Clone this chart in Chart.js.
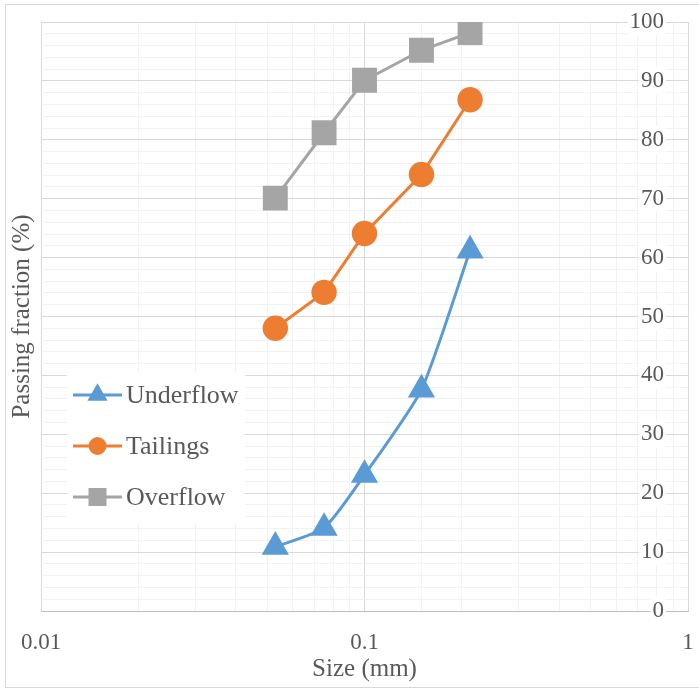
<!DOCTYPE html>
<html>
<head>
<meta charset="utf-8">
<script src="https://cdn.jsdelivr.net/npm/chart.js@4.4.1/dist/chart.umd.min.js"></script>
<style>
  html, body { margin: 0; padding: 0; background: #fff; }
  canvas { display: block; }
</style>
</head>
<body>
<canvas id="chartPSD" width="699" height="690"></canvas>
<script>
// particle size distribution — passing fraction vs sieve size (log x)
const sizes      = [0.053, 0.075, 0.1, 0.15, 0.212];
const underflow  = [10.9, 14.1, 23.1, 37.6, 61.2];
const tailings   = [48.0, 54.1, 64.1, 74.1, 86.8];
const overflow   = [70.1, 81.2, 90.1, 95.2, 98.2];
const seriesNames = ['Underflow', 'Tailings', 'Overflow'];
const xTickLabels = ['0.01', '0.1', '1'];
const yTickLabels = ['0', '10', '20', '30', '40', '50', '60', '70', '80', '90', '100'];

const FONT = "'Liberation Serif', 'Times New Roman', serif";
const TEXT = '#595959';
const MAJOR = '#d9d9d9', MINOR = '#f2f2f2';

const isXMajor = v => xTickLabels.some(l => Math.abs(+l - v) < 1e-9);
const isYMajor = v => yTickLabels.some(l => Math.abs(+l - v) < 1e-6);

const pts = ys => sizes.map((x, i) => ({ x, y: ys[i] }));

// no label overhang padding, the plot box is placed by hand
const fixBox = (w, h) => s => {
  if (w != null) s.width = w;
  if (h != null) s.height = h;
  s.paddingTop = s.paddingBottom = s.paddingLeft = s.paddingRight = 0;
};

const frame = {
  id: 'frame',
  beforeDraw(chart) {
    const ctx = chart.ctx;
    ctx.save();
    ctx.fillStyle = '#fff';
    ctx.fillRect(0, 0, chart.width, chart.height);
    ctx.strokeStyle = '#d9d9d9';
    ctx.lineWidth = 1;
    ctx.strokeRect(5.5, 4.5, 700, 683);
    ctx.restore();
  }
};

// legend drawn inside the plot area, Excel style
const innerLegend = {
  id: 'innerLegend',
  afterDatasetsDraw(chart) {
    const ctx = chart.ctx;
    ctx.save();
    ctx.fillStyle = '#fff';
    ctx.fillRect(67, 373, 178, 150);
    const rows = [395, 446, 497];
    const mk = [
      { pointStyle: 'triangle', radius: 8.7 },
      { pointStyle: 'circle', radius: 7.5 },
      { pointStyle: 'rect', radius: 10.6 }
    ];
    chart.data.datasets.forEach((ds, i) => {
      const y = rows[i];
      ctx.strokeStyle = ds.borderColor;
      ctx.lineWidth = 3;
      ctx.beginPath();
      ctx.moveTo(73, y);
      ctx.lineTo(122, y);
      ctx.stroke();
      ctx.fillStyle = ds.backgroundColor;
      ctx.strokeStyle = ds.borderColor;
      Chart.helpers.drawPoint(ctx, { ...mk[i], rotation: 0, borderWidth: 1 }, 97.5, y);
      ctx.fillStyle = TEXT;
      ctx.font = `26px ${FONT}`;
      ctx.textAlign = 'left';
      ctx.textBaseline = 'middle';
      ctx.fillText(ds.label, 126, y + 1);
    });
    ctx.restore();
  }
};

new Chart(document.getElementById('chartPSD'), {
  type: 'line',
  data: {
    datasets: [
      { label: seriesNames[0], data: pts(underflow), borderColor: '#5b9bd5', backgroundColor: '#5b9bd5',
        borderWidth: 3, pointStyle: 'triangle', pointRadius: 12.7, tension: 0.2 },
      { label: seriesNames[1], data: pts(tailings), borderColor: '#ed7d31', backgroundColor: '#ed7d31',
        borderWidth: 3, pointStyle: 'circle', pointRadius: 11.2, tension: 0 },
      { label: seriesNames[2], data: pts(overflow), borderColor: '#a5a5a5', backgroundColor: '#a5a5a5',
        borderWidth: 3, pointStyle: 'rect', pointRadius: 15.5, tension: 0 }
    ]
  },
  options: {
    responsive: false, animation: false, devicePixelRatio: 1,
    layout: { autoPadding: false, padding: { left: 0, right: 0, top: 22, bottom: 0 } },
    plugins: { legend: { display: false }, tooltip: { enabled: false } },
    scales: {
      x: {
        type: 'logarithmic', min: 0.01, max: 1,
        afterFit: fixBox(null, 79),
        grid: { color: c => isXMajor(c.tick.value) ? MAJOR : MINOR, drawTicks: false },
        border: { display: true, color: '#bfbfbf' },
        ticks: {
          autoSkip: false, maxRotation: 0, padding: 18, color: TEXT,
          font: { family: FONT, size: 23 },
          callback: v => isXMajor(v) ? xTickLabels.find(l => Math.abs(+l - v) < 1e-9) : ''
        },
        title: { display: true, text: 'Size (mm)', color: TEXT, font: { family: FONT, size: 25 },
                 padding: { top: 0, bottom: 6 } }
      },
      y: {
        position: 'right', min: 0, max: 100,
        afterFit: fixBox(11, null),
        grid: { color: c => isYMajor(c.tick.value) ? MAJOR : MINOR, drawTicks: false },
        border: { display: false },
        ticks: {
          stepSize: 2, autoSkip: false, mirror: true, padding: -24, color: TEXT,
          font: { family: FONT, size: 23 },
          showLabelBackdrop: true,
          backdropPadding: { x: 2, y: 0 },
          backdropColor: c => isYMajor(c.tick.value) ? '#fff' : 'rgba(0,0,0,0)',
          callback: v => isYMajor(v) ? String(Math.round(v)) : ''
        }
      },
      yTitle: {
        position: 'left', min: 0, max: 100,
        afterFit: fixBox(41, null),
        grid: { display: false, drawTicks: false },
        border: { display: false },
        ticks: { display: false },
        title: { display: true, text: 'Passing fraction (%)', color: TEXT, font: { family: FONT, size: 25 },
                 padding: { top: 7, bottom: 0 } }
      }
    }
  },
  plugins: [frame, innerLegend]
});
</script>
</body>
</html>
